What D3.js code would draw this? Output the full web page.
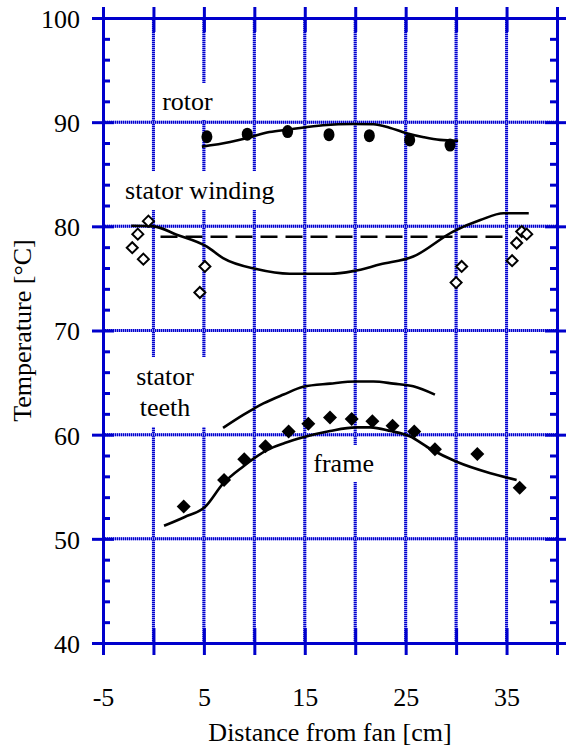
<!DOCTYPE html>
<html>
<head>
<meta charset="utf-8">
<script src="https://cdn.jsdelivr.net/npm/d3@7"></script>
<style>
  body { margin: 0; background: #fff; }
  svg { display: block; }
  text { font-family: "Liberation Serif", "Times New Roman", serif; fill: #000; }
</style>
</head>
<body>
<svg id="chart" width="566" height="752"></svg>
<script>
// ---- axis ticks ----
const xTicks = [-5, 0, 5, 10, 15, 20, 25, 30, 35, 40];
const xTickLabels = [-5, 5, 15, 25, 35];
const xGrid = [0, 5, 10, 15, 20, 25, 30, 35];
const yTicks = [40, 50, 60, 70, 80, 90, 100];
const yMinorTicks = [42, 44, 46, 48, 52, 54, 56, 58, 62, 64, 66, 68, 72, 74, 76, 78, 82, 84, 86, 88, 92, 94, 96, 98];
const yGrid = [50, 60, 70, 80, 90];

// ---- rotor: measured points and computed curve ----
const rotorX = [5.3, 9.3, 13.3, 17.4, 21.4, 25.4, 29.4];
const rotorT = [88.6, 88.85, 89.1, 88.8, 88.7, 88.3, 87.8];
const rotorModelX = [4.8, 7.6, 9.2, 11.5, 13.5, 16.8, 19.8, 21.8, 23.4, 25.1, 26.8, 28.4, 30.2];
const rotorModelT = [87.65, 88.1, 88.45, 89.05, 89.3, 89.7, 89.82, 89.8, 89.47, 88.93, 88.55, 88.3, 88.22];

// ---- stator winding: measured points, computed curve, mean ----
const windX = [-0.5, -1.55, -2.1, -1.0, 5.1, 4.6, 30.55, 30.0, 35.55, 36.0, 36.5, 37.0];
const windT = [80.5, 79.25, 77.95, 76.85, 76.15, 73.65, 76.15, 74.6, 76.7, 78.4, 79.5, 79.25];
const windModelX = [-2.2, 0.0, 2.3, 5.3, 6.9, 10.2, 13.5, 17.5, 19.8, 22.5, 25.75, 29.7, 32.4, 34.7, 37.2];
const windModelT = [80.05, 80.0, 79.2, 78.05, 76.95, 75.9, 75.45, 75.45, 75.7, 76.35, 77.1, 79.5, 80.6, 81.25, 81.25];
const windMeanX = [0.7, 35.4];
const windMeanT = [79.0, 79.0];

// ---- stator teeth: computed curve ----
const teethModelX = [6.9, 8.9, 10.9, 12.9, 14.85, 17.5, 20.1, 21.8, 23.8, 25.75, 27.9];
const teethModelT = [60.65, 61.9, 63.0, 63.85, 64.6, 64.9, 65.1, 65.1, 64.9, 64.65, 63.85];

// ---- frame: measured points and computed curve ----
const frameX = [3.0, 7.0, 9.0, 11.1, 13.4, 15.35, 17.5, 19.65, 21.7, 23.7, 25.85, 27.9, 32.1, 36.3];
const frameT = [53.1, 55.65, 57.65, 58.9, 60.3, 61.05, 61.65, 61.5, 61.3, 60.85, 60.3, 58.6, 58.15, 54.9];
const frameModelX = [1.05, 3.1, 5.1, 6.9, 8.9, 11.2, 13.0, 14.85, 17.5, 20.1, 21.5, 23.5, 25.4, 27.5, 30.05, 33.4, 36.0];
const frameModelT = [51.25, 52.1, 53.05, 55.3, 56.95, 58.5, 59.2, 59.75, 60.35, 60.7, 60.7, 60.35, 59.85, 58.6, 57.4, 56.3, 55.65];

// ---- annotation labels (data coordinates of text anchor / baseline) ----
const labelText = [["rotor"], ["stator winding"], ["stator", "teeth"], ["frame"]];
const labelX = [3.37, 4.6, 1.15, 18.85];
const labelT = [91.17, 82.62, 64.77, 56.42];

// ---- layout ----
const plotL = 103, plotR = 557, plotT = 18, plotB = 643;
const blue = "#0000cc";
const fs = 26;

const svg = d3.select("#chart");
const x = d3.scaleLinear().domain([-5, 40]).range([plotL, plotR]);
const y = d3.scaleLinear().domain([40, 100]).range([plotB, plotT]);

// ---- grid lines: light blue base with dark dotted overlay ----
const grid = svg.append("g");
const gridLayers = [["#8c8cf0", null], [blue, "1,1"]];
xGrid.forEach(v => {
  gridLayers.forEach(([c, d]) => {
    grid.append("line")
      .attr("x1", x(v)).attr("x2", x(v)).attr("y1", y(100)).attr("y2", y(40))
      .attr("stroke", c).attr("stroke-width", 3).attr("stroke-dasharray", d);
  });
});
yGrid.forEach(v => {
  gridLayers.forEach(([c, d]) => {
    grid.append("line")
      .attr("y1", y(v)).attr("y2", y(v)).attr("x1", x(-5)).attr("x2", x(40))
      .attr("stroke", c).attr("stroke-width", 3).attr("stroke-dasharray", d);
  });
});

// ---- opaque annotation labels ----
const labelPad = [[5, 4], [6, 5], [13, 5], [5, 4]];
const lineGap = 31;
labelText.forEach((lines, i) => {
  const g = svg.append("g");
  const rect = g.append("rect").attr("fill", "#fff");
  const t = g.append("text")
    .attr("x", x(labelX[i])).attr("y", y(labelT[i]))
    .attr("text-anchor", "middle").attr("font-size", fs);
  lines.forEach((s, j) => {
    t.append("tspan").attr("x", x(labelX[i])).attr("dy", j === 0 ? 0 : lineGap).text(s);
  });
  const b = t.node().getBBox();
  const [px, py] = labelPad[i];
  rect.attr("x", b.x - px).attr("y", b.y - py)
      .attr("width", b.width + 2 * px).attr("height", b.height + 2 * py);
});

// ---- axes ----
const axes = svg.append("g");
function styleAxis(g) {
  g.attr("font-family", null);
  g.select(".domain").attr("stroke", blue).attr("stroke-width", 3);
  g.selectAll(".tick line").attr("stroke", blue).attr("stroke-width", 3);
  g.selectAll(".tick text").attr("font-size", fs).attr("fill", "#000");
}
const fmt = d => (xTickLabels.includes(d) ? String(d) : "");
// bottom: outward ticks with labels, plus inward ticks
axes.append("g").attr("transform", `translate(0,${plotB})`)
  .call(d3.axisBottom(x).tickValues(xTicks).tickSize(12).tickSizeOuter(0).tickPadding(33).tickFormat(fmt))
  .call(styleAxis);
axes.append("g").attr("transform", `translate(0,${plotB})`)
  .call(d3.axisTop(x).tickValues(xTicks).tickSize(15).tickSizeOuter(0).tickFormat(""))
  .call(styleAxis);
// top
axes.append("g").attr("transform", `translate(0,${plotT})`)
  .call(d3.axisTop(x).tickValues(xTicks).tickSize(11).tickSizeOuter(0).tickFormat(""))
  .call(styleAxis);
axes.append("g").attr("transform", `translate(0,${plotT})`)
  .call(d3.axisBottom(x).tickValues(xTicks).tickSize(14).tickSizeOuter(0).tickFormat(""))
  .call(styleAxis);
// left
axes.append("g").attr("transform", `translate(${plotL},0)`)
  .call(d3.axisLeft(y).tickValues(yTicks).tickSize(11).tickSizeOuter(0).tickPadding(12).tickFormat(d3.format("d")))
  .call(styleAxis)
  .call(g => g.selectAll(".tick text").attr("dy", "0.36em"));
axes.append("g").attr("transform", `translate(${plotL},0)`)
  .call(d3.axisRight(y).tickValues(yTicks).tickSize(11).tickSizeOuter(0).tickFormat(""))
  .call(styleAxis);
axes.append("g").attr("transform", `translate(${plotL},0)`)
  .call(d3.axisRight(y).tickValues(yMinorTicks).tickSize(7).tickSizeOuter(0).tickFormat(""))
  .call(styleAxis);
// right
axes.append("g").attr("transform", `translate(${plotR},0)`)
  .call(d3.axisRight(y).tickValues(yTicks).tickSize(10).tickSizeOuter(0).tickFormat(""))
  .call(styleAxis);
axes.append("g").attr("transform", `translate(${plotR},0)`)
  .call(d3.axisLeft(y).tickValues(yTicks).tickSize(12).tickSizeOuter(0).tickFormat(""))
  .call(styleAxis);
axes.append("g").attr("transform", `translate(${plotR},0)`)
  .call(d3.axisLeft(y).tickValues(yMinorTicks).tickSize(7).tickSizeOuter(0).tickFormat(""))
  .call(styleAxis);

// ---- axis titles ----
svg.append("text").attr("x", (plotL + plotR) / 2).attr("y", 741)
  .attr("text-anchor", "middle").attr("font-size", fs).text("Distance from fan [cm]");
svg.append("text").attr("transform", `translate(31,${(plotT + plotB) / 2}) rotate(-90)`)
  .attr("text-anchor", "middle").attr("font-size", fs).text("Temperature [°C]");

// ---- curves ----
const line = d3.line().x(d => x(d[0])).y(d => y(d[1])).curve(d3.curveMonotoneX);
const zip = (a, b) => a.map((v, i) => [v, b[i]]);
const curves = svg.append("g").attr("fill", "none").attr("stroke", "#000").attr("stroke-width", 2.6);
curves.append("path").attr("d", line(zip(rotorModelX, rotorModelT)));
curves.append("path").attr("d", line(zip(windModelX, windModelT)));
curves.append("path").attr("d", line(zip(windMeanX, windMeanT))).attr("stroke-dasharray", "17,8");
curves.append("path").attr("d", line(zip(teethModelX, teethModelT)));
curves.append("path").attr("d", line(zip(frameModelX, frameModelT)));

// ---- markers ----
svg.append("g").selectAll("ellipse").data(zip(rotorX, rotorT)).join("ellipse")
  .attr("cx", d => x(d[0])).attr("cy", d => y(d[1])).attr("rx", 5.5).attr("ry", 6.5).attr("fill", "#000");

const diamond = (cx, cy, r) => `M${cx},${cy - r}L${cx + r},${cy}L${cx},${cy + r}L${cx - r},${cy}Z`;
svg.append("g").selectAll("path").data(zip(windX, windT)).join("path")
  .attr("d", d => diamond(x(d[0]), y(d[1]), 5.5))
  .attr("fill", "#fff").attr("stroke", "#000").attr("stroke-width", 2);
svg.append("g").selectAll("path").data(zip(frameX, frameT)).join("path")
  .attr("d", d => diamond(x(d[0]), y(d[1]), 7))
  .attr("fill", "#000");
</script>
</body>
</html>
